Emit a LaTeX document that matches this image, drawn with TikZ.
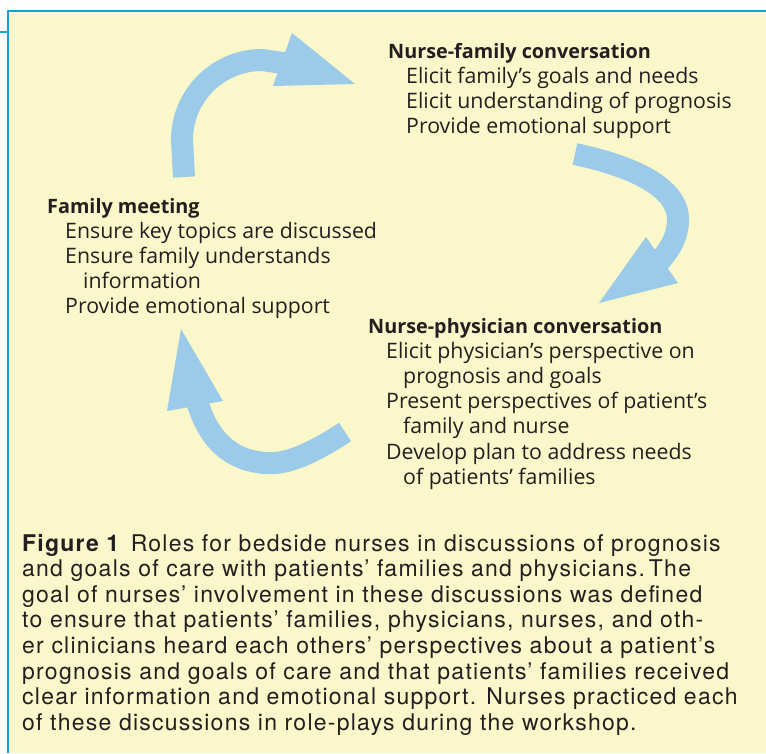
\documentclass[tikz,border=0pt]{standalone}
\usepackage{fontspec}
\setmainfont{Open Sans}
\newfontfamily\capfont[LetterSpace=5.4]{TeX Gyre Heros}
\definecolor{paper}{RGB}{250,247,202}
\definecolor{rule}{RGB}{22,160,214}
\definecolor{flow}{RGB}{156,203,233}
\definecolor{ink}{RGB}{35,31,32}
\tikzset{
  head/.style={anchor=base west, inner sep=0pt, text=ink,
    font=\fontsize{19.8}{24}\selectfont\bfseries},
  item/.style={anchor=base west, inner sep=0pt, text=ink,
    font=\fontsize{21.3}{25}\selectfont},
  capline/.style={anchor=base west, inner sep=0pt, text=ink,
    font=\capfont\fontsize{23}{26}\selectfont},
  shaft/.style={draw=flow, line width=22pt, line cap=butt},
  tip/.style={fill=flow},
}
\begin{document}
\begin{tikzpicture}[x=1pt,y=-1pt]
\useasboundingbox (0,0) rectangle (766,753);
% panel
\fill[paper] (8,11) rectangle (766,753);
\draw[rule, line width=2.5pt] (0,32) -- (8,32);
\draw[rule, line width=2.5pt, line join=miter] (8,753) -- (8,11) -- (766,11);

% cycle arrows
\draw[shaft] (184,177) -- (182,140) arc[start angle=180, end angle=270, radius=80] -- (290,64);
\fill[tip] (292,33) -- (355,84) -- (273,86) -- cycle;

\draw[shaft] (575,154) .. controls (650,170) and (680,195) .. (678,222)
  .. controls (677,238) and (670,250) .. (657,264);
\fill[tip] (646,237) -- (678,283) -- (599,303) -- cycle;

\draw[shaft] (345,432) .. controls (310,455) and (285,465) .. (265,463)
  .. controls (230,460) and (208,440) .. (196,398);
\fill[tip] (167,411) -- (223,401) -- (181,329) -- cycle;

% nurse-family conversation
\node[head] (nf) at (388,58.3) {Nurse-family conversation};
\node[item] (nf1) at (406,83.5) {Elicit family’s goals and needs};
\node[item] (nf2) at (406,108.7) {Elicit understanding of prognosis};
\node[item] (nf3) at (406,133.9) {Provide emotional support};

% family meeting
\node[head] (fm) at (47,213) {Family meeting};
\node[item] (fm1) at (65,238.2) {Ensure key topics are discussed};
\node[item] (fm2) at (65,263.4) {Ensure family understands};
\node[item] (fm2b) at (83,288.6) {information};
\node[item] (fm3) at (65,313.8) {Provide emotional support};

% nurse-physician conversation
\node[head] (np) at (368,333) {Nurse-physician conversation};
\node[item] (np1) at (386,358.2) {Elicit physician’s perspective on};
\node[item] (np1b) at (403,383.4) {prognosis and goals};
\node[item] (np2) at (386,408.6) {Present perspectives of patient’s};
\node[item] (np2b) at (403,433.8) {family and nurse};
\node[item] (np3) at (386,459) {Develop plan to address needs};
\node[item] (np3b) at (403,484.2) {of patients’ families};

% caption
\node[capline] (c1) at (22,551) {\textbf{Figure 1}\hspace{0.45em}Roles for bedside nurses in discussions of prognosis};
\node[capline] (c2) at (22,576.6) {and goals of care with patients’ families and physicians.\,The};
\node[capline] (c3) at (22,602.2) {goal of nurses’ involvement in these discussions was defined};
\node[capline] (c4) at (22,627.8) {to ensure that patients’ families, physicians, nurses, and oth-};
\node[capline] (c5) at (22,653.4) {er clinicians heard each others’ perspectives about a patient’s};
\node[capline] (c6) at (22,679) {prognosis and goals of care and that patients’ families received};
\node[capline] (c7) at (22,704.6) {clear information and emotional support. Nurses practiced each};
\node[capline] (c8) at (22,730.2) {of these discussions in role-plays during the workshop.};
\end{tikzpicture}
\end{document}
